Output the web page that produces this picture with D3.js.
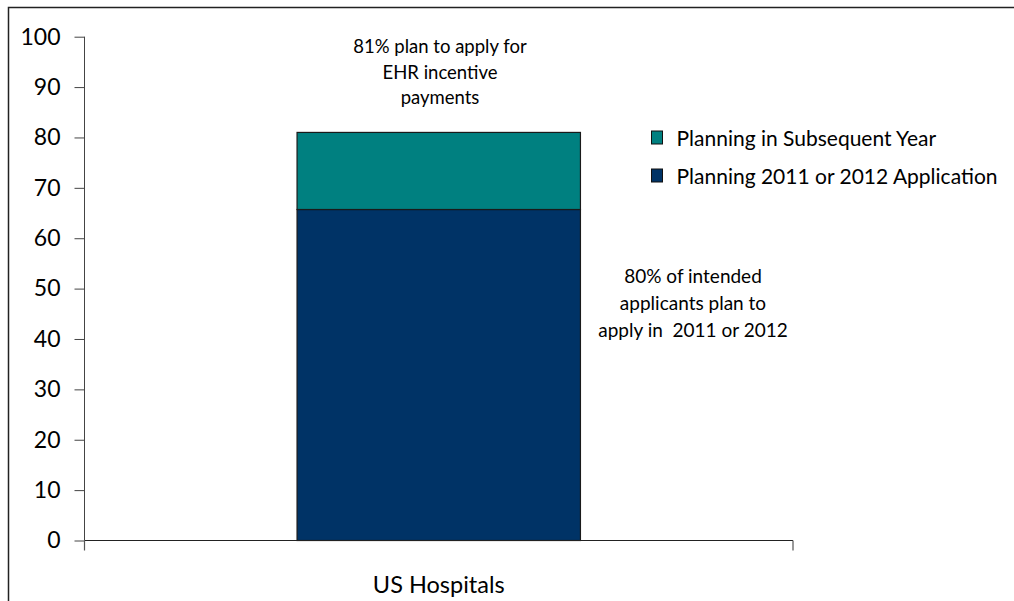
<!DOCTYPE html>
<html>
<head>
<meta charset="utf-8">
<script src="https://cdn.jsdelivr.net/npm/d3@7"></script>
<style>
  html, body { margin: 0; padding: 0; background: #fff; }
  svg { display: block; font-family: Lato, "Open Sans", sans-serif; }
</style>
</head>
<body>
<svg id="chart" width="1014" height="601"></svg>
<script>
// Stacked bar: hospitals planning to apply for EHR incentive payments
const categories = ["US Hospitals"];
const seriesNames = ["Planning 2011 or 2012 Application", "Planning in Subsequent Year"];
const planning2011or2012 = [65.7];
const planningSubsequent = [15.3];
const yTicks = [0, 10, 20, 30, 40, 50, 60, 70, 80, 90, 100];
const seriesColors = ["#003366", "#008080"];
const noteTop = ["81% plan to apply for", "EHR incentive", "payments"];
const noteSide = ["80% of intended", "applicants plan to", "apply in  2011 or 2012"];

const svg = d3.select("#chart");

// outer frame (top and left edges visible)
svg.append("rect")
  .attr("x", 8.5).attr("y", 7.5)
  .attr("width", 1100).attr("height", 700)
  .attr("fill", "none").attr("stroke", "#222").attr("stroke-width", 1.5);

const plot = { left: 84.5, right: 793, top: 36.7, bottom: 540.5 };

const y = d3.scaleLinear().domain([0, 100]).range([plot.bottom, plot.top]);
const x = d3.scaleBand().domain(categories).range([plot.left, plot.right]).paddingInner(0.6).paddingOuter(0.3);

const rows = categories.map((c, i) => ({
  category: c,
  [seriesNames[0]]: planning2011or2012[i],
  [seriesNames[1]]: planningSubsequent[i]
}));
const stacked = d3.stack().keys(seriesNames)(rows);

// bars
svg.append("g").selectAll("g")
  .data(stacked).join("g")
  .attr("fill", (d, i) => seriesColors[i])
  .selectAll("rect")
  .data(d => d).join("rect")
  .attr("x", d => x(d.data.category))
  .attr("width", x.bandwidth())
  .attr("y", d => y(d[1]))
  .attr("height", d => y(d[0]) - y(d[1]))
  .attr("stroke", "#1a1a1a").attr("stroke-width", 1.2);

// y axis
const yAxis = svg.append("g")
  .attr("transform", `translate(${plot.left},0)`)
  .call(d3.axisLeft(y).tickValues(yTicks).tickSize(10).tickPadding(14).tickFormat(d3.format("d")));
yAxis.select(".domain").attr("stroke", "#444").attr("d", `M0,${plot.top}V${plot.bottom}`);
yAxis.selectAll(".tick line").attr("stroke", "#444");
yAxis.selectAll(".tick text").attr("font-size", 23).attr("fill", "#000")
  .attr("font-family", "Lato, sans-serif");

// x axis baseline with end ticks
const xAxisG = svg.append("g");
xAxisG.append("line")
  .attr("x1", plot.left).attr("x2", plot.right)
  .attr("y1", plot.bottom).attr("y2", plot.bottom)
  .attr("stroke", "#222").attr("stroke-width", 1.2);
[plot.left, plot.right].forEach(px => {
  xAxisG.append("line")
    .attr("x1", px).attr("x2", px)
    .attr("y1", plot.bottom).attr("y2", plot.bottom + 10)
    .attr("stroke", "#555").attr("stroke-width", 1.2);
});
xAxisG.selectAll("text.cat")
  .data(categories).join("text")
  .attr("class", "cat")
  .attr("x", d => x(d) + x.bandwidth() / 2)
  .attr("y", 593)
  .attr("text-anchor", "middle")
  .attr("font-size", 23.5)
  .text(d => d);

// legend (subsequent year on top)
const legendItems = [
  { name: seriesNames[1], color: seriesColors[1], y: 137.5 },
  { name: seriesNames[0], color: seriesColors[0], y: 175.5 }
];
const legend = svg.append("g").selectAll("g")
  .data(legendItems).join("g")
  .attr("transform", d => `translate(651.5,${d.y})`);
legend.append("rect")
  .attr("x", 0).attr("y", -6.5)
  .attr("width", 11).attr("height", 13)
  .attr("fill", d => d.color).attr("stroke", "#111").attr("stroke-width", 1);
legend.append("text")
  .attr("x", 25).attr("y", 1).attr("dy", "0.35em")
  .attr("font-size", 21)
  .text(d => d.name);

// annotations
svg.append("g").selectAll("text")
  .data(noteTop).join("text")
  .attr("x", 440).attr("y", (d, i) => 53 + i * 25.5)
  .attr("text-anchor", "middle").attr("font-size", 18.5)
  .text(d => d);

svg.append("g").selectAll("text")
  .data(noteSide).join("text")
  .attr("x", 693).attr("y", (d, i) => 283 + i * 27)
  .attr("text-anchor", "middle").attr("font-size", 19)
  .attr("xml:space", "preserve").style("white-space", "pre")
  .text(d => d);
</script>
</body>
</html>
